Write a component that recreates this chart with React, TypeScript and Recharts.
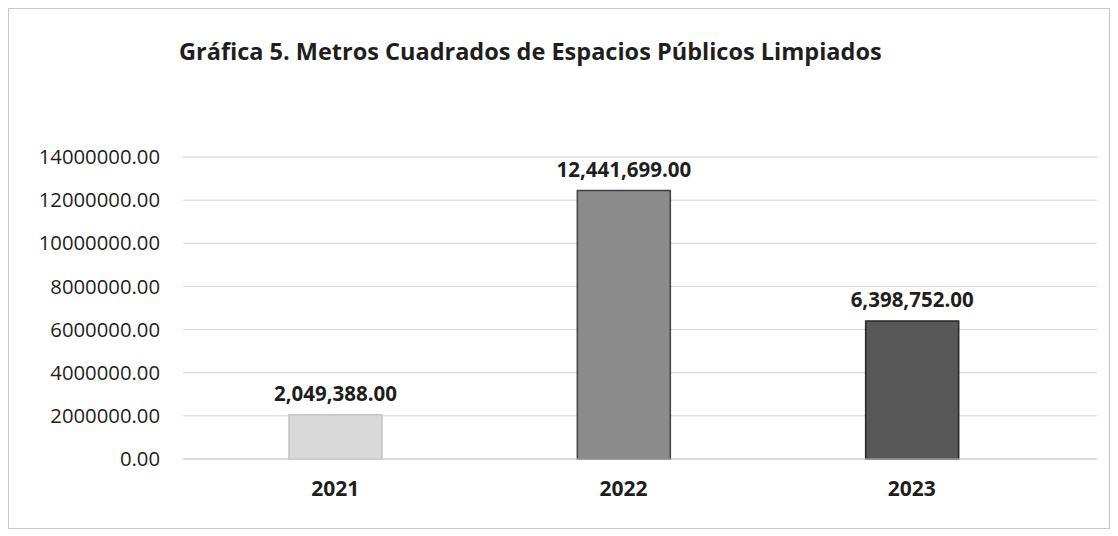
import React from "react";
import { BarChart, Bar, XAxis, YAxis, CartesianGrid, LabelList, Cell } from "recharts";

const years = ["2021", "2022", "2023"];
const values = [2049388, 12441699, 6398752];
const yTicks = [0, 2000000, 4000000, 6000000, 8000000, 10000000, 12000000, 14000000];
const fills = ["#d9d9d9", "#8b8b8b", "#585858"];
const strokes = ["#c4c4c4", "#404040", "#262626"];

const data = years.map((y, i) => ({ year: y, value: values[i] }));

const FONT = "'Open Sans', 'DejaVu Sans', sans-serif";

const fmtLabel = (v: number) =>
  v.toLocaleString("en-US", { minimumFractionDigits: 2, maximumFractionDigits: 2 });

export default function App() {
  return (
    <div
      style={{
        position: "relative",
        width: 1100,
        height: 519,
        border: "1px solid #c8c8c8",
        background: "#fff",
        fontFamily: FONT,
      }}
    >
      <div
        style={{
          position: "absolute",
          left: 170,
          top: 28,
          fontSize: 23.5,
          lineHeight: "28px",
          fontWeight: 700,
          color: "#1e1e1e",
          whiteSpace: "nowrap",
        }}
      >
        Gráfica 5. Metros Cuadrados de Espacios Públicos Limpiados
      </div>
      <BarChart
        width={1100}
        height={519}
        data={data}
        margin={{ top: 148, right: 12, left: 0, bottom: 0 }}
      >
        <CartesianGrid vertical={false} stroke="#d4d4d4" />
        <XAxis
          dataKey="year"
          height={69}
          padding={{ left: 8, right: 41 }}
          tickLine={false}
          tickSize={0}
          tickMargin={22}
          axisLine={{ stroke: "#cfcfcf" }}
          tick={{ fill: "#1e1e1e", fontSize: 21, fontWeight: 700, fontFamily: FONT }}
        />
        <YAxis
          width={174}
          domain={[0, 14000000]}
          ticks={yTicks}
          interval={0}
          axisLine={false}
          tickLine={false}
          tickSize={0}
          tickMargin={23}
          tickFormatter={(v: number) => v.toFixed(2)}
          tick={{ fill: "#1e1e1e", fontSize: 20.3, fontFamily: FONT }}
        />
        <Bar dataKey="value" barSize={93} isAnimationActive={false}>
          {data.map((d, i) => (
            <Cell key={d.year} fill={fills[i]} stroke={strokes[i]} strokeWidth={1.5} />
          ))}
          <LabelList
            dataKey="value"
            position="top"
            offset={14}
            formatter={(v: number) => fmtLabel(v)}
            style={{ fill: "#1e1e1e", fontSize: 20.5, fontWeight: 700, fontFamily: FONT }}
          />
        </Bar>
      </BarChart>
    </div>
  );
}
